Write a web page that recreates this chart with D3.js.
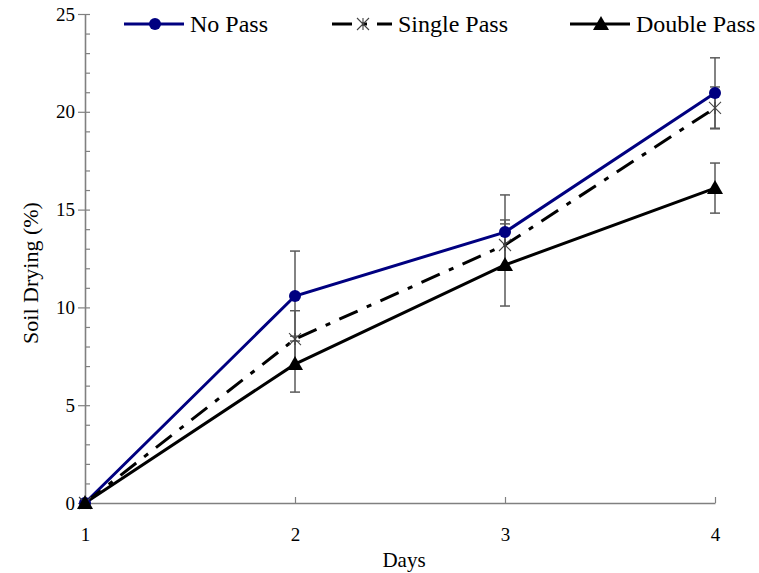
<!DOCTYPE html>
<html><head><meta charset="utf-8">
<script src="https://cdn.jsdelivr.net/npm/d3@7"></script>
<style>body{margin:0;background:#fff}svg{display:block}</style>
</head><body>
<script>
const days = [1, 2, 3, 4];
const noPass = [0, 10.58, 13.85, 20.96];
const noPassErr = [0, 2.3, 1.9, 1.8];
const singlePass = [0, 8.38, 13.19, 20.2];
const singlePassErr = [0, 1.45, 1.28, 1.07];
const doublePass = [0, 7.1, 12.17, 16.1];
const doublePassErr = [0, 1.43, 2.1, 1.28];
const yMajorTicks = [0, 5, 10, 15, 20, 25];
const yMinorTicks = d3.range(0, 26, 1);
const seriesNames = ["No Pass", "Single Pass", "Double Pass"];

const W = 759, H = 573;
const svg = d3.select("body").append("svg").attr("width", W).attr("height", H);
svg.append("rect").attr("width", W).attr("height", H).attr("fill", "#fff");

const x = d3.scaleLinear().domain([1, 4]).range([85, 715]);
const y = d3.scaleLinear().domain([0, 25]).range([503, 14]);
const font = "'Liberation Serif','Times New Roman',serif";
const axisCol = "#808080";

// minor ticks (inside)
const gMinor = svg.append("g").attr("transform", "translate(85,0)")
  .call(d3.axisRight(y).tickValues(yMinorTicks).tickSize(5).tickFormat(""));
gMinor.select(".domain").remove();
gMinor.selectAll("line").attr("stroke", axisCol).attr("stroke-width", 1.2);

// y axis
const gy = svg.append("g").attr("transform", "translate(85,0)")
  .call(d3.axisLeft(y).tickValues(yMajorTicks).tickSize(7).tickSizeOuter(0).tickPadding(3));
gy.select(".domain").attr("stroke", axisCol).attr("stroke-width", 1.6);
gy.selectAll("line").attr("stroke", axisCol).attr("stroke-width", 1.2);
gy.selectAll("text").attr("font-family", font).attr("font-size", 19).attr("fill", "#000");

// x axis
const gx = svg.append("g").attr("transform", "translate(0,503)")
  .call(d3.axisBottom(x).tickValues(days).tickFormat(d3.format("d")).tickSize(-6).tickSizeOuter(0).tickPadding(25));
gx.select(".domain").attr("stroke", axisCol).attr("stroke-width", 1.6);
gx.selectAll("line").attr("stroke", axisCol).attr("stroke-width", 1.2);
gx.selectAll("text").attr("font-family", font).attr("font-size", 19).attr("fill", "#000");

// axis titles
svg.append("text").attr("transform", "translate(30,273) rotate(-90)")
  .attr("text-anchor", "middle").attr("dominant-baseline", "central")
  .attr("font-family", font).attr("font-size", 22).text("Soil Drying (%)");
svg.append("text").attr("x", 404).attr("y", 567).attr("text-anchor", "middle")
  .attr("font-family", font).attr("font-size", 21).text("Days");

const series = [
  {name: seriesNames[0], vals: noPass, err: noPassErr, color: "#000080", dash: null, marker: "circle"},
  {name: seriesNames[1], vals: singlePass, err: singlePassErr, color: "#000", dash: "20,10,5,10", marker: "star"},
  {name: seriesNames[2], vals: doublePass, err: doublePassErr, color: "#000", dash: null, marker: "triangle"}
];

// error bars
const gErr = svg.append("g");
series.forEach(s => {
  days.forEach((d, i) => {
    if (!s.err[i]) return;
    const cx = x(d), y1 = y(s.vals[i] + s.err[i]), y2 = y(s.vals[i] - s.err[i]);
    gErr.append("line").attr("x1", cx).attr("x2", cx).attr("y1", y1).attr("y2", y2)
      .attr("stroke", "#5a5a5a").attr("stroke-width", 1.5);
    [y1, y2].forEach(yy => gErr.append("line").attr("x1", cx - 5).attr("x2", cx + 5)
      .attr("y1", yy).attr("y2", yy).attr("stroke", "#5a5a5a").attr("stroke-width", 1.5));
  });
});

const line = d3.line().x((d, i) => x(days[i])).y(d => y(d));

function drawMarker(g, type, cx, cy, color) {
  if (type === "circle") {
    g.append("circle").attr("cx", cx).attr("cy", cy).attr("r", 6).attr("fill", color);
  } else if (type === "triangle") {
    g.append("path").attr("d", `M${cx},${cy - 8}L${cx + 8},${cy + 6}L${cx - 8},${cy + 6}Z`).attr("fill", "#000");
  } else {
    const r = 6;
    g.append("path").attr("d", `M${cx - r},${cy - r}L${cx + r},${cy + r}M${cx - r},${cy + r}L${cx + r},${cy - r}M${cx},${cy - r}L${cx},${cy + r}`)
      .attr("stroke", "#444").attr("stroke-width", 1.1).attr("fill", "none");
  }
}

series.forEach(s => {
  svg.append("path").datum(s.vals).attr("d", line).attr("fill", "none")
    .attr("stroke", s.color).attr("stroke-width", 3)
    .attr("stroke-dasharray", s.dash);
});
series.forEach(s => {
  const g = svg.append("g");
  days.forEach((d, i) => drawMarker(g, s.marker, x(d), y(s.vals[i]), s.color));
});

// legend
const legX = [124, 332, 570];
series.forEach((s, k) => {
  const g = svg.append("g");
  const x0 = legX[k], ly = 24;
  g.append("line").attr("x1", x0).attr("x2", x0 + 60).attr("y1", ly).attr("y2", ly)
    .attr("stroke", s.color).attr("stroke-width", 3).attr("stroke-dasharray", s.dash);
  drawMarker(g, s.marker, x0 + 31, ly, s.color);
  g.append("text").attr("x", x0 + 66).attr("y", ly).attr("dominant-baseline", "central")
    .attr("font-family", font).attr("font-size", 24).text(s.name);
});
</script>
</body></html>
